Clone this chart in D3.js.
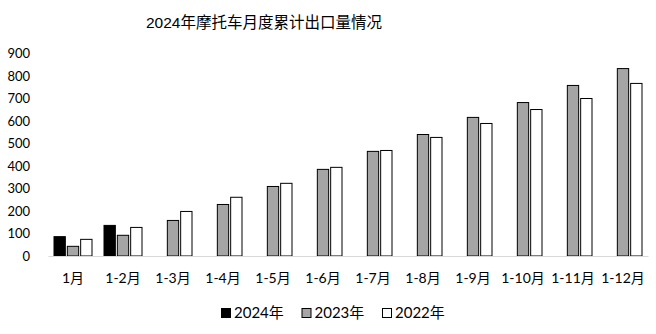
<!DOCTYPE html>
<html>
<head>
<meta charset="utf-8">
<script src="https://cdn.jsdelivr.net/npm/d3@7"></script>
<style>
  body { margin: 0; background: #fff; }
  svg { display: block; }
</style>
</head>
<body>
<svg id="chart" width="656" height="334"></svg>
<script>
const width = 656;
const height = 334;

const categories = ["1月", "1-2月", "1-3月", "1-4月", "1-5月", "1-6月", "1-7月", "1-8月", "1-9月", "1-10月", "1-11月", "1-12月"];
const seriesNames = ["2024年", "2023年", "2022年"];
const values2024 = [86, 136, null, null, null, null, null, null, null, null, null, null];
const values2023 = [43, 92, 158, 229, 309, 385, 465, 540, 616, 682, 758, 833];
const values2022 = [74, 127, 198, 261, 323, 394, 469, 527, 589, 651, 700, 767];
const yTicks = [0, 100, 200, 300, 400, 500, 600, 700, 800, 900];
const colors = ["#000000", "#a5a5a5", "#ffffff"];

const svg = d3.select("#chart");

const x = d3.scaleBand().domain(categories).range([48, 648]);
const xInner = d3.scaleBand().domain(seriesNames).range([0, x.bandwidth()])
  .paddingInner(0.15).paddingOuter(0.45);
const y = d3.scaleLinear().domain([0, 900]).range([256, 53.5]);

// title
svg.append("text")
  .attr("x", 264)
  .attr("y", 28)
  .attr("text-anchor", "middle")
  .style("font-family", "'Liberation Sans', 'Noto Sans CJK SC', sans-serif")
  .style("font-size", "15.5px")
  .attr("fill", "#000")
  .text("2024年摩托车月度累计出口量情况");

// y axis labels
const yAxis = svg.append("g")
  .attr("transform", "translate(30,0)")
  .call(d3.axisLeft(y).tickValues(yTicks).tickSize(0).tickPadding(0));
yAxis.select(".domain").remove();
yAxis.selectAll("text")
  .style("font-family", "Lato, 'Noto Sans CJK SC', sans-serif")
  .style("font-size", "13px")
  .attr("fill", "#000");

// bars
const rows = categories.map((c, i) => ({
  cat: c,
  vals: [values2024[i], values2023[i], values2022[i]]
}));

const groups = svg.selectAll(".cat")
  .data(rows)
  .enter()
  .append("g")
  .attr("class", "cat")
  .attr("transform", d => `translate(${x(d.cat)},0)`);

groups.selectAll("rect")
  .data(d => d.vals.map((v, j) => ({ name: seriesNames[j], v, j })).filter(e => e.v != null))
  .enter()
  .append("rect")
  .attr("x", d => xInner(d.name))
  .attr("y", d => y(d.v))
  .attr("width", xInner.bandwidth())
  .attr("height", d => y(0) - y(d.v))
  .attr("fill", d => colors[d.j])
  .attr("stroke", "#000")
  .attr("stroke-width", 1);

// x axis
const xAxis = svg.append("g")
  .attr("transform", "translate(0,256)")
  .call(d3.axisBottom(x).tickSize(0).tickPadding(17));
xAxis.select(".domain").attr("stroke", "#d9d9d9");
xAxis.selectAll("text")
  .style("font-family", "Lato, 'Noto Sans CJK SC', sans-serif")
  .style("font-size", "14px")
  .attr("fill", "#000");

// legend
const legend = svg.selectAll(".legend")
  .data(seriesNames)
  .enter()
  .append("g")
  .attr("class", "legend")
  .attr("transform", (d, i) => `translate(${221 + i * 80.5},308)`);

legend.append("rect")
  .attr("x", 0.5)
  .attr("y", 0.5)
  .attr("width", 9)
  .attr("height", 9)
  .attr("fill", (d, i) => colors[i])
  .attr("stroke", "#000")
  .attr("stroke-width", 1);

legend.append("text")
  .attr("x", 13)
  .attr("y", 10)
  .style("font-family", "Lato, 'Noto Sans CJK SC', sans-serif")
  .style("font-size", "15px")
  .attr("fill", "#000")
  .text(d => d);
</script>
</body>
</html>
